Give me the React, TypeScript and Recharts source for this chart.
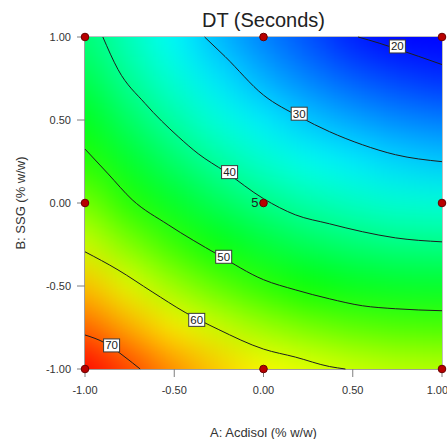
import React from 'react';
import { ComposedChart, XAxis, YAxis, Scatter, ReferenceArea } from 'recharts';

const FONT = '"Liberation Sans", Arial, sans-serif';

// factor levels (coded) used for the response grid
const acdisolLevels = [-1, -0.75, -0.5, -0.25, 0, 0.25, 0.5, 0.75, 1];
const ssgLevels = [1, 0.75, 0.5, 0.25, 0, -0.25, -0.5, -0.75, -1];

// DT (seconds), one row per SSG level, left to right in Acdisol
const dtAtSsgP100 = [41.7, 37.0, 32.8, 29.0, 26.0, 23.3, 20.5, 18.5, 16.8];
const dtAtSsgP075 = [44.2, 39.4, 35.3, 31.7, 28.6, 26.1, 24.0, 22.5, 21.4];
const dtAtSsgP050 = [47.3, 42.6, 38.5, 35.0, 32.1, 29.8, 28.0, 26.6, 25.8];
const dtAtSsgP025 = [50.9, 46.3, 42.3, 38.9, 36.0, 33.8, 32.1, 30.8, 30.0];
const dtAtSsg000 = [55.1, 50.6, 46.6, 43.3, 40.5, 38.3, 36.7, 35.6, 35.2];
const dtAtSsgM025 = [59.6, 55.4, 51.6, 48.3, 45.5, 43.3, 41.8, 40.8, 40.4];
const dtAtSsgM050 = [65.0, 60.7, 56.9, 53.6, 51.0, 48.9, 47.4, 46.6, 46.3];
const dtAtSsgM075 = [69.3, 65.8, 62.5, 59.5, 57.0, 55.0, 53.6, 52.8, 52.5];
const dtAtSsgM100 = [74.5, 71.0, 67.5, 64.6, 62.3, 60.9, 59.7, 58.9, 58.6];
const dtRows = [dtAtSsgP100, dtAtSsgP075, dtAtSsgP050, dtAtSsgP025, dtAtSsg000, dtAtSsgM025, dtAtSsgM050, dtAtSsgM075, dtAtSsgM100];

// contour lines [A, B]
const contour20 = [[0.53, 1], [0.648, 0.963], [0.739, 0.931], [1, 0.834]];
const contour30 = [[-0.33, 1], [-0.215, 0.882], [0, 0.65], [0.201, 0.52], [0.369, 0.43], [0.554, 0.351], [0.739, 0.291], [1, 0.249]];
const contour40 = [[-0.9, 1], [-0.815, 0.804], [-0.663, 0.599], [-0.478, 0.4], [-0.366, 0.297], [-0.215, 0.189], [0, 0.026], [0.178, -0.071], [0.369, -0.125], [0.554, -0.173], [0.739, -0.21], [1, -0.234]];
const contour50 = [[-1, 0.325], [-0.87, 0.175], [-0.736, 0.02], [-0.534, -0.131], [-0.254, -0.312], [0, -0.462], [0.178, -0.523], [0.369, -0.577], [0.554, -0.619], [0.739, -0.637], [1, -0.649]];
const contour60 = [[-1, -0.294], [-0.815, -0.403], [-0.624, -0.535], [-0.439, -0.659], [-0.254, -0.761], [0, -0.88], [0.178, -0.928], [0.369, -0.985], [0.459, -1]];
const contour70 = [[-1, -0.795], [-0.888, -0.843], [-0.776, -0.928], [-0.691, -1]];
const contours = [contour20, contour30, contour40, contour50, contour60, contour70];

// contour value labels
const labelValues = [20, 30, 40, 50, 60, 70];
const labelA = [0.75, 0.2, -0.19, -0.223, -0.374, -0.851];
const labelB = [0.943, 0.538, 0.186, -0.324, -0.704, -0.858];

// design points
const designA = [-1, 0, 1, -1, 0, 1, -1, 0, 1];
const designB = [1, 1, 1, 0, 0, 0, -1, -1, -1];
const designReps = [1, 1, 1, 1, 5, 1, 1, 1, 1];

const axisTicks = [-1, -0.5, 0, 0.5, 1];

const W = 447;
const H = 439;
const MARGIN = { top: 37, right: 5, left: 0, bottom: 0 };
const Y_AXIS_W = 85;
const X_AXIS_H = 70;
const PLOT_X = MARGIN.left + Y_AXIS_W;
const PLOT_W = W - PLOT_X - MARGIN.right;
const PLOT_H = H - MARGIN.top - MARGIN.bottom - X_AXIS_H;
const CELL_W = PLOT_W / (acdisolLevels.length - 1);
const CELL_H = PLOT_H / (ssgLevels.length - 1);
const EDGE_EXT = 50;

const colorStops: [number, number[]][] = [
  [19, [0, 0, 255]],
  [33, [0, 255, 255]],
  [49, [0, 255, 0]],
  [62, [255, 255, 0]],
  [74, [255, 0, 0]],
];

function dtColor(v: number) {
  if (v <= colorStops[0][0]) return `rgb(${colorStops[0][1].join(',')})`;
  for (let i = 1; i < colorStops.length; i++) {
    const [v1, c1] = colorStops[i];
    const [v0, c0] = colorStops[i - 1];
    if (v <= v1) {
      const t = (v - v0) / (v1 - v0);
      const c = c0.map((a, k) => Math.round(a + (c1[k] - a) * t));
      return `rgb(${c.join(',')})`;
    }
  }
  return `rgb(${colorStops[colorStops.length - 1][1].join(',')})`;
}

const heatCells: any[] = [];
ssgLevels.forEach((b, r) => {
  acdisolLevels.forEach((a, c) => {
    heatCells.push({ x: a, y: b, v: dtRows[r][c] });
  });
});

const contourData = contours.map((pts) => pts.map(([x, y]) => ({ x, y })));
const labelData = labelValues.map((v, i) => ({ x: labelA[i], y: labelB[i], v }));
const designData = designA.map((x, i) => ({ x, y: designB[i], n: designReps[i] }));

const HeatCell = (p: any) => {
  const { x, y, v } = p.payload;
  const l = x === -1 ? EDGE_EXT : 0;
  const r = x === 1 ? EDGE_EXT : 0;
  const t = y === 1 ? EDGE_EXT : 0;
  const b = y === -1 ? EDGE_EXT : 0;
  return (
    <rect
      x={p.cx - CELL_W / 2 - 0.5 - l}
      y={p.cy - CELL_H / 2 - 0.5 - t}
      width={CELL_W + 1 + l + r}
      height={CELL_H + 1 + t + b}
      fill={dtColor(v)}
    />
  );
};

const NoDot = () => <g />;

const ContourLabel = (p: any) => (
  <g>
    <rect x={p.cx - 8} y={p.cy - 6.5} width={16} height={13} fill="#fff" stroke="#3a3a3a" strokeWidth={1} />
    <text x={p.cx} y={p.cy} textAnchor="middle" dominantBaseline="central" fontSize={11.5} fontFamily={FONT} fill="#222">
      {p.payload.v}
    </text>
  </g>
);

const DesignPoint = (p: any) => (
  <g>
    <circle cx={p.cx} cy={p.cy} r={3.8} fill="#b80000" stroke="#6a0000" strokeWidth={1} />
    {p.payload.n > 1 && (
      <text x={p.cx - 5} y={p.cy - 1} textAnchor="end" dominantBaseline="central" fontSize={13} fontFamily={FONT} fill="#222">
        {p.payload.n}
      </text>
    )}
  </g>
);

const YLabel = (props: any) => {
  const vb = props.viewBox || { x: 0, y: MARGIN.top, width: Y_AXIS_W, height: PLOT_H };
  const cx = vb.x + 20;
  const cy = vb.y + vb.height / 2;
  return (
    <text x={cx} y={cy} transform={`rotate(-90, ${cx}, ${cy})`} textAnchor="middle" dominantBaseline="central" fontSize={13} fontFamily={FONT} fill="#333">
      B: SSG (% w/w)
    </text>
  );
};

const tickStyle = { fill: '#333', fontSize: 11, fontFamily: FONT };

export default function App() {
  return (
    <div style={{ position: 'absolute', left: 0, top: 0, width: W, height: H, background: '#fff' }}>
      <style>{`.heat { filter: url(#heatBlur); clip-path: url(#plotClip); }`}</style>
      <svg width={0} height={0} style={{ position: 'absolute' }}>
        <defs>
          <filter id="heatBlur" x="-20%" y="-20%" width="140%" height="140%" colorInterpolationFilters="sRGB">
            <feGaussianBlur stdDeviation={19} />
          </filter>
          <clipPath id="plotClip" clipPathUnits="userSpaceOnUse">
            <rect x={PLOT_X} y={MARGIN.top} width={PLOT_W} height={PLOT_H} />
          </clipPath>
        </defs>
      </svg>
      <div
        style={{
          position: 'absolute',
          left: PLOT_X,
          top: 9,
          width: PLOT_W,
          textAlign: 'center',
          fontFamily: FONT,
          fontSize: 20,
          color: '#222',
        }}
      >
        DT (Seconds)
      </div>
      <ComposedChart width={W} height={H} margin={MARGIN}>
        <XAxis
          type="number"
          dataKey="x"
          domain={[-1, 1]}
          ticks={axisTicks}
          tickFormatter={(v: number) => v.toFixed(2)}
          height={X_AXIS_H}
          tickSize={8}
          tickMargin={9}
          tick={tickStyle}
          axisLine={{ stroke: '#7f7f7f' }}
          tickLine={{ stroke: '#7f7f7f' }}
          label={{ value: 'A: Acdisol (% w/w)', position: 'insideBottom', offset: 2, fill: '#333', fontSize: 13, fontFamily: FONT }}
        />
        <YAxis
          type="number"
          dataKey="y"
          domain={[-1, 1]}
          ticks={axisTicks}
          tickFormatter={(v: number) => v.toFixed(2)}
          width={Y_AXIS_W}
          tickSize={8}
          tickMargin={6}
          tick={tickStyle}
          axisLine={{ stroke: '#7f7f7f' }}
          tickLine={{ stroke: '#7f7f7f' }}
          label={{ content: YLabel }}
        />
        <Scatter className="heat" data={heatCells} shape={HeatCell} isAnimationActive={false} />
        {contourData.map((d, i) => (
          <Scatter
            key={i}
            data={d}
            shape={NoDot}
            line={{ stroke: '#1e1e1e', strokeWidth: 1 }}
            lineJointType="monotoneX"
            isAnimationActive={false}
          />
        ))}
        <Scatter data={labelData} shape={ContourLabel} isAnimationActive={false} />
        <ReferenceArea x1={-1} x2={1} y1={-1} y2={1} fill="none" stroke="#7f7f7f" ifOverflow="visible" />
        <Scatter data={designData} shape={DesignPoint} isAnimationActive={false} />
      </ComposedChart>
    </div>
  );
}
